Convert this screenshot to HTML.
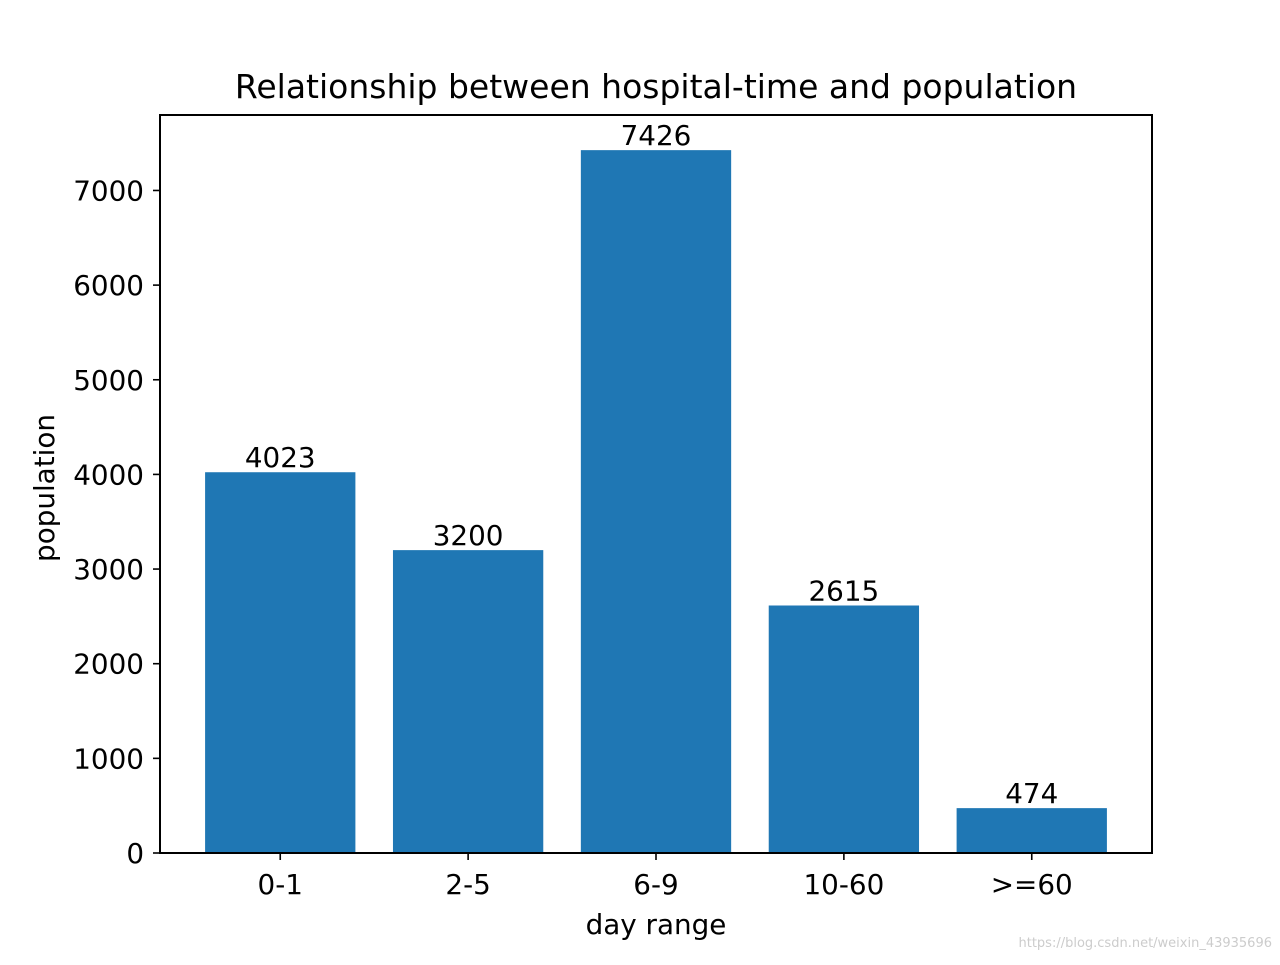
<!DOCTYPE html>
<html><head><meta charset="utf-8"><style>
html,body{margin:0;padding:0;background:#fff;}
svg text{font-family:"DejaVu Sans","Liberation Sans",sans-serif;}
</style></head><body>
<svg id="chart" width="1280" height="960" viewBox="0 0 1280 960" xmlns="http://www.w3.org/2000/svg">
<rect width="1280" height="960" fill="#fff"/>
<text x="656" y="98" font-size="33" text-anchor="middle">Relationship between hospital-time and population</text>
<g id="bars"></g>
<g id="yticks"></g>
<g id="xticks"></g>
<rect x="160" y="115" width="992" height="738" fill="none" stroke="#000" stroke-width="2"/>
<text x="656" y="934" font-size="27.8" text-anchor="middle">day range</text>
<text transform="translate(54,488) rotate(-90)" font-size="27.8" text-anchor="middle">population</text>
<text x="1272" y="947" font-size="13" fill="#ccc" text-anchor="end">https://blog.csdn.net/weixin_43935696</text>
</svg>
<script>
const categories = ["0-1","2-5","6-9","10-60",">=60"];
const values = [4023,3200,7426,2615,474];
const yTicks = [0,1000,2000,3000,4000,5000,6000,7000];
const NS="http://www.w3.org/2000/svg";
const pLeft=160,pRight=1152,pTop=115,pBottom=853;
const yMax=Math.max(...values)*1.05;
function yScale(v){return pBottom-(v/yMax)*(pBottom-pTop);}
const nCat=categories.length;
const xMin=-0.64,xMax=nCat-1+0.64;
function xScale(i){return pLeft+(i-xMin)/(xMax-xMin)*(pRight-pLeft);}
const unit=(pRight-pLeft)/(xMax-xMin);
function mk(t,a,p){const e=document.createElementNS(NS,t);for(const k in a)e.setAttribute(k,a[k]);p.appendChild(e);return e;}
const gb=document.getElementById('bars'),gy=document.getElementById('yticks'),gx=document.getElementById('xticks');
categories.forEach((c,i)=>{
  const cx=xScale(i),w=0.8*unit;
  const r=mk('rect',{x:cx-w/2,y:yScale(values[i]),width:w,height:pBottom-yScale(values[i]),fill:'#1f77b4'},gb);
  
  
  const l=mk('text',{x:cx,y:yScale(values[i])-5,'font-size':27.8,'text-anchor':'middle'},gb);
  l.textContent=values[i];
  
  
  const tk=mk('line',{x1:cx,x2:cx,y1:pBottom,y2:pBottom+7,stroke:'#000','stroke-width':1.6},gx);
  
  
  const t=mk('text',{x:cx,y:pBottom+41,'font-size':27.8,'text-anchor':'middle'},gx);
  t.textContent=c;
  
  
});
yTicks.forEach(v=>{
  const yy=yScale(v);
  const tk=mk('line',{x1:pLeft-7,x2:pLeft,y1:yy,y2:yy,stroke:'#000','stroke-width':1.6},gy);
  
  
  const t=mk('text',{x:pLeft-16,y:yy+10,'font-size':27.8,'text-anchor':'end'},gy);
  t.textContent=v;
  
  
});
</script>
</body></html>
